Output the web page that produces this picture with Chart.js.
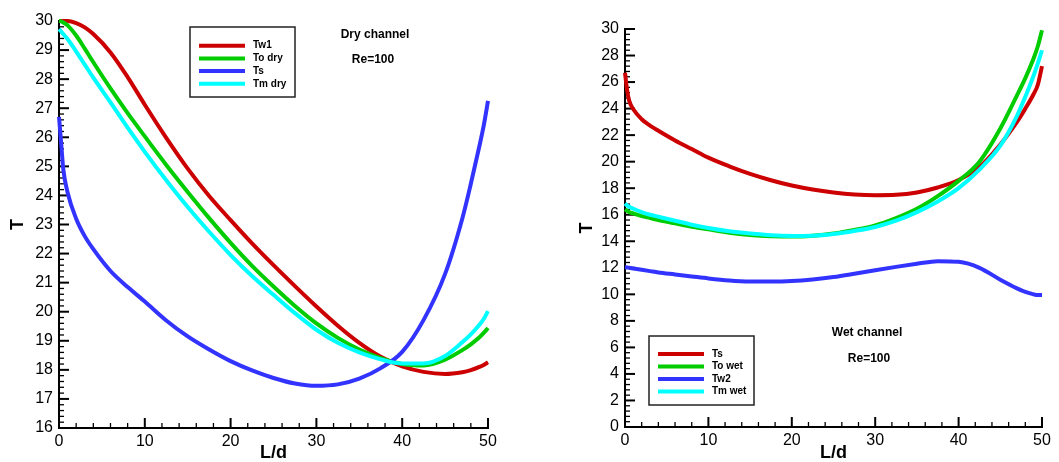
<!DOCTYPE html>
<html>
<head>
<meta charset="utf-8">
<script src="https://cdn.jsdelivr.net/npm/chart.js@4"></script>
<style>
  body { margin: 0; background: #fff; }
  #dry { position: absolute; left: 0; top: 0; }
  #wet { position: absolute; left: 530px; top: 0; }
</style>
</head>
<body>
<canvas id="dry" width="530" height="462"></canvas>
<canvas id="wet" width="529" height="462"></canvas>
<script>
// positions along the channel (L/d), shared by every curve
const lengths = [0, 0.25, 0.5, 1, 2, 3, 4, 6, 8, 10, 12.5, 15, 17.5, 20, 22.5, 25, 27.5, 30, 32.5, 35, 37.5, 40, 42.5, 45, 47, 48, 49, 49.5, 50];

// dry channel
const dryTw1 = [30, 30, 30, 30, 29.93, 29.78, 29.55, 28.92, 28.07, 27.12, 25.98, 24.92, 23.98, 23.15, 22.35, 21.6, 20.88, 20.18, 19.52, 18.93, 18.45, 18.12, 17.93, 17.86, 17.92, 17.99, 18.1, 18.17, 18.26];
const dryTo = [30, 29.99, 29.95, 29.85, 29.5, 29.05, 28.58, 27.68, 26.83, 26.03, 25.05, 24.12, 23.22, 22.37, 21.58, 20.87, 20.2, 19.6, 19.1, 18.7, 18.4, 18.2, 18.15, 18.35, 18.68, 18.88, 19.12, 19.27, 19.44];
const dryTs = [26.7, 25.8, 24.9, 24.1, 23.2, 22.6, 22.15, 21.4, 20.85, 20.35, 19.7, 19.15, 18.7, 18.3, 17.98, 17.72, 17.53, 17.45, 17.5, 17.7, 18.06, 18.62, 19.72, 21.3, 23.2, 24.4, 25.7, 26.4, 27.25];
const dryTm = [29.72, 29.64, 29.55, 29.38, 28.95, 28.5, 28.05, 27.2, 26.33, 25.5, 24.52, 23.6, 22.75, 21.95, 21.23, 20.58, 19.95, 19.38, 18.93, 18.6, 18.36, 18.22, 18.22, 18.48, 18.95, 19.22, 19.55, 19.75, 20.02];
const dryLabels = ['Tw1', 'To dry', 'Ts', 'Tm dry'];

// wet channel
const wetTs = [26.7, 25.4, 24.6, 23.95, 23.2, 22.72, 22.33, 21.6, 20.95, 20.3, 19.65, 19.08, 18.6, 18.2, 17.9, 17.68, 17.53, 17.47, 17.5, 17.68, 18.05, 18.62, 19.6, 21.3, 23.0, 24.0, 25.1, 25.8, 27.2];
const wetTo = [16.4, 16.3, 16.2, 16.1, 15.9, 15.75, 15.6, 15.35, 15.1, 14.9, 14.65, 14.48, 14.38, 14.35, 14.42, 14.58, 14.85, 15.2, 15.75, 16.45, 17.4, 18.55, 20.0, 22.5, 25.0, 26.3, 27.8, 28.7, 29.9];
const wetTw2 = [12.05, 12.03, 12.0, 11.95, 11.85, 11.75, 11.65, 11.5, 11.35, 11.2, 11.05, 10.97, 10.96, 11.0, 11.12, 11.3, 11.55, 11.82, 12.07, 12.3, 12.5, 12.45, 12.0, 11.1, 10.45, 10.18, 10.0, 9.95, 9.95];
const wetTm = [16.85, 16.7, 16.6, 16.45, 16.2, 16.0, 15.85, 15.55, 15.25, 15.0, 14.75, 14.58, 14.45, 14.4, 14.42, 14.55, 14.78, 15.08, 15.55, 16.2, 17.0, 18.0, 19.4, 21.2, 23.45, 24.9, 26.5, 27.4, 28.4];
const wetLabels = ['Ts', 'To wet', 'Tw2', 'Tm wet'];

const lineColors = ['#cc0000', '#00cc00', '#3333ff', '#00ffff'];

Chart.defaults.font.family = '"Liberation Sans", Arial, sans-serif';
Chart.defaults.color = '#000';

// tecplot style ticks pointing into the plot, with minor ticks
const innerTicks = {
  id: 'innerTicks',
  beforeDatasetsDraw(chart, args, opts) {
    const {ctx, chartArea, scales: {x, y}} = chart;
    ctx.save();
    ctx.strokeStyle = '#000';
    const run = (scale, minor, major, draw) => {
      const n = Math.round((scale.max - scale.min) / minor);
      const every = Math.round(major / minor);
      for (let i = 0; i <= n; i++) {
        const isMajor = i % every === 0;
        ctx.lineWidth = isMajor ? 2 : 1.3;
        draw(scale.getPixelForValue(scale.min + i * minor), isMajor ? 10 : 5);
      }
    };
    run(x, opts.xMinor, opts.xMajor, (px, len) => {
      ctx.beginPath(); ctx.moveTo(px, chartArea.bottom); ctx.lineTo(px, chartArea.bottom - len); ctx.stroke();
    });
    run(y, opts.yMinor, opts.yMajor, (py, len) => {
      ctx.beginPath(); ctx.moveTo(chartArea.left, py); ctx.lineTo(chartArea.left + len, py); ctx.stroke();
    });
    ctx.restore();
  }
};

// boxed legend and the text notes inside the plot
const boxLegend = {
  id: 'boxLegend',
  afterDatasetsDraw(chart, args, opts) {
    const {ctx} = chart;
    ctx.save();
    ctx.strokeStyle = '#222';
    ctx.lineWidth = 1.5;
    ctx.strokeRect(opts.left, opts.top, opts.width, opts.height);
    ctx.font = 'bold 10px "Liberation Sans", Arial, sans-serif';
    ctx.textBaseline = 'middle';
    chart.data.datasets.forEach((ds, i) => {
      const yy = opts.firstRow + i * opts.rowGap;
      ctx.strokeStyle = ds.borderColor;
      ctx.lineWidth = 4;
      ctx.beginPath();
      ctx.moveTo(opts.left + 9, yy);
      ctx.lineTo(opts.left + 55, yy);
      ctx.stroke();
      ctx.fillStyle = '#000';
      ctx.fillText(ds.label, opts.left + 63, yy);
    });
    ctx.font = 'bold 12px "Liberation Sans", Arial, sans-serif';
    ctx.textAlign = 'center';
    opts.notes.forEach(n => ctx.fillText(n.text, n.x, n.y));
    ctx.restore();
  }
};

function makeChart(id, series, labels, yRange, frame) {
  const datasets = series.map((vals, i) => ({
    label: labels[i],
    data: lengths.map((L, j) => ({x: L, y: vals[j]})),
    borderColor: lineColors[i],
    borderWidth: 4,
    pointRadius: 0,
    cubicInterpolationMode: 'monotone',
    clip: false,
    order: series.length - i
  }));

  new Chart(document.getElementById(id), {
    type: 'line',
    data: { datasets: datasets },
    plugins: [innerTicks, boxLegend],
    options: {
      responsive: false,
      animation: false,
      layout: { padding: { left: 0, right: frame.right, top: frame.top, bottom: 0 } },
      plugins: {
        legend: { display: false },
        tooltip: { enabled: false },
        innerTicks: { xMinor: 2, xMajor: 10, yMinor: yRange.minor, yMajor: yRange.step },
        boxLegend: frame.legend
      },
      scales: {
        x: {
          type: 'linear',
          min: 0,
          max: 50,
          afterFit: s => { s.height = frame.xHeight; },
          ticks: { stepSize: 10, font: { size: 16 }, padding: 4, maxRotation: 0 },
          grid: { display: false, drawTicks: false },
          border: { display: true, color: '#000', width: 2 },
          title: { display: true, text: 'L/d', font: { size: 18, weight: 'bold', lineHeight: 1 }, padding: { top: -4, bottom: 0 } }
        },
        y: {
          min: yRange.min,
          max: yRange.max,
          afterFit: s => { s.width = frame.yWidth; },
          ticks: { stepSize: yRange.step, font: { size: 16 }, padding: 6 },
          grid: { display: false, drawTicks: false },
          border: { display: true, color: '#000', width: 2 },
          title: { display: true, text: 'T', font: { size: 18, weight: 'bold', lineHeight: 1 }, padding: { top: frame.yTitle, bottom: 0 } }
        }
      }
    }
  });
}

makeChart('dry', [dryTw1, dryTo, dryTs, dryTm], dryLabels,
  { min: 16, max: 30, step: 1, minor: 0.2 },
  {
    right: 42, top: 21, xHeight: 34, yWidth: 59, yTitle: 9,
    legend: {
      left: 190, top: 27, width: 105, height: 70, firstRow: 45.7, rowGap: 12.7,
      notes: [{ text: 'Dry channel', x: 375, y: 35 }, { text: 'Re=100', x: 373, y: 60 }]
    }
  });

makeChart('wet', [wetTs, wetTo, wetTw2, wetTm], wetLabels,
  { min: 0, max: 30, step: 2, minor: 0.4 },
  {
    right: 17, top: 29, xHeight: 35, yWidth: 95, yTitle: 48,
    legend: {
      left: 119, top: 336, width: 105, height: 69, firstRow: 354, rowGap: 12.5,
      notes: [{ text: 'Wet channel', x: 337, y: 333 }, { text: 'Re=100', x: 339, y: 359 }]
    }
  });
</script>
</body>
</html>
